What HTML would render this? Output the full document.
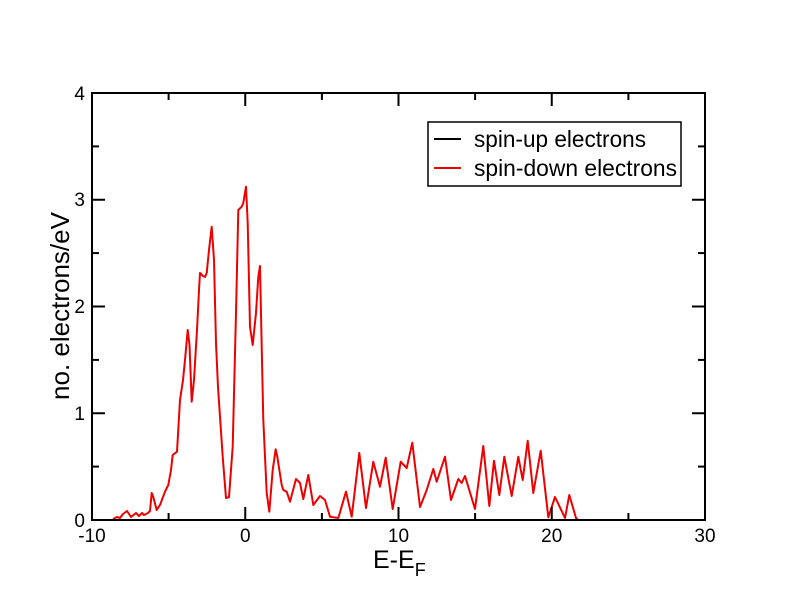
<!DOCTYPE html>
<html><head><meta charset="utf-8"><style>body{margin:0;background:#fff}svg{display:block}</style></head>
<body>
<svg width="792" height="612" viewBox="0 0 792 612" xmlns="http://www.w3.org/2000/svg" font-family="Liberation Sans, sans-serif">
<rect width="792" height="612" fill="#fff"/>
<polyline fill="none" stroke="#e00" stroke-width="2" stroke-linejoin="round" points="
113,519 117,517 120,518 123,514 127,511 131,517 136,513 139,516 142,513 144,515 148,513 150,511 151.7,493 153,496 156.7,510 160,505 165,491.7 168.3,485 171,470 172.7,455 177,451.7 180,400 183,380 185,360 187.7,330 189.5,345 191.7,401.7 194,380 197,330 199,290 200,273 203,276 205,277 206.7,273 209,250 211.7,226.7 214,260 216,343 218,387 222.7,456.7 226,498 229,497 232.7,446.7 236,313 238.3,210 241.7,206.7 243.3,203 246,186.7 247.7,223 250,326.7 252.7,345 256,313 258.3,276.7 260,266 261.7,346.7 263.3,420 266.7,493 269.3,511.7 272.7,470 275.7,449.3 277.3,456.7 281.7,485 283.3,490 286.7,491.7 290,501.7 296,479 300,483 303.3,499 308.3,475 313.3,505 320,496 325,500 330,516.7 338.3,518 346,491.7 351.7,516.7 359.3,453 366,508 373.3,461.7 380,486.7 385.7,457.7 392.7,509 400.7,461.7 406.7,468 412.3,442.7 420,507 426.7,490 433.3,469 436.7,481.7 445,456.7 451,500 458.3,479 461.7,483 465,476 475,509 483.3,446 489.3,506 494,460.7 499.3,495 504.3,456.7 511.7,496 518.3,456.7 522.7,480 527.7,440.7 533.3,493 540.7,450.7 548.3,517.3 555,497 565,518 569.3,495 576,518 578,520"/>
<rect x="92" y="93" width="613" height="427" fill="none" stroke="#000" stroke-width="2"/>
<g stroke="#000" stroke-width="2">
<line x1="245.25" y1="520" x2="245.25" y2="507"/><line x1="398.5" y1="520" x2="398.5" y2="507"/><line x1="551.75" y1="520" x2="551.75" y2="507"/>
<line x1="245.25" y1="93" x2="245.25" y2="106"/><line x1="398.5" y1="93" x2="398.5" y2="106"/><line x1="551.75" y1="93" x2="551.75" y2="106"/>
<line x1="168.6" y1="520" x2="168.6" y2="513"/><line x1="321.9" y1="520" x2="321.9" y2="513"/><line x1="475.1" y1="520" x2="475.1" y2="513"/><line x1="628.4" y1="520" x2="628.4" y2="513"/>
<line x1="168.6" y1="93" x2="168.6" y2="100"/><line x1="321.9" y1="93" x2="321.9" y2="100"/><line x1="475.1" y1="93" x2="475.1" y2="100"/><line x1="628.4" y1="93" x2="628.4" y2="100"/>
<line x1="92" y1="413.25" x2="105" y2="413.25"/><line x1="92" y1="306.5" x2="105" y2="306.5"/><line x1="92" y1="199.75" x2="105" y2="199.75"/>
<line x1="705" y1="413.25" x2="692" y2="413.25"/><line x1="705" y1="306.5" x2="692" y2="306.5"/><line x1="705" y1="199.75" x2="692" y2="199.75"/>
<line x1="92" y1="466.6" x2="99" y2="466.6"/><line x1="92" y1="359.9" x2="99" y2="359.9"/><line x1="92" y1="253.1" x2="99" y2="253.1"/><line x1="92" y1="146.4" x2="99" y2="146.4"/>
<line x1="705" y1="466.6" x2="698" y2="466.6"/><line x1="705" y1="359.9" x2="698" y2="359.9"/><line x1="705" y1="253.1" x2="698" y2="253.1"/><line x1="705" y1="146.4" x2="698" y2="146.4"/>
</g>
<g font-size="19" fill="#000" text-anchor="middle">
<text x="92" y="542">-10</text><text x="245.25" y="542">0</text><text x="398.5" y="542">10</text><text x="551.75" y="542">20</text><text x="705" y="542">30</text>
</g>
<g font-size="19" fill="#000" text-anchor="end">
<text x="85" y="527">0</text><text x="85" y="420">1</text><text x="85" y="313">2</text><text x="85" y="206">3</text><text x="85" y="100">4</text>
</g>
<text x="373" y="568" font-size="25">E-E<tspan font-size="18" dy="8">F</tspan></text>
<text transform="translate(69,306) rotate(-90)" font-size="26" text-anchor="middle">no. electrons/eV</text>
<rect x="428" y="122" width="253" height="64" fill="#fff" stroke="#000" stroke-width="1.5"/>
<line x1="434" y1="139" x2="461" y2="139" stroke="#000" stroke-width="2"/>
<line x1="434" y1="168" x2="461" y2="168" stroke="#e00" stroke-width="2"/>
<text x="474" y="147" font-size="23" textLength="172" lengthAdjust="spacingAndGlyphs">spin-up electrons</text>
<text x="474" y="176" font-size="23" textLength="203" lengthAdjust="spacingAndGlyphs">spin-down electrons</text>
</svg>
</body></html>
